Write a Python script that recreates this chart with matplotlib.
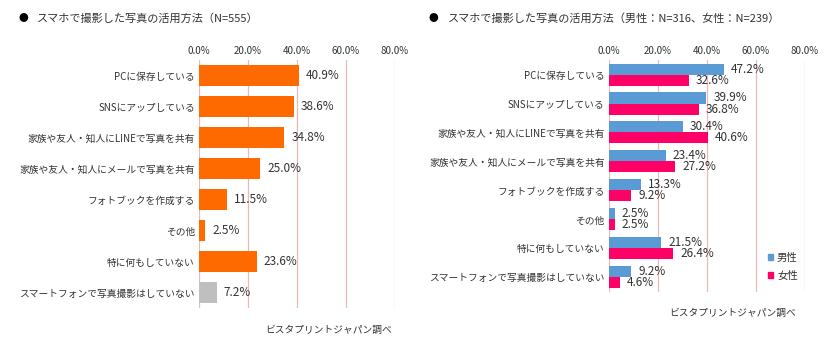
import numpy as np
import matplotlib
matplotlib.use("Agg")
import matplotlib.pyplot as plt
from matplotlib.patches import Patch

plt.rcParams['font.family'] = ['Noto Sans CJK JP', 'DejaVu Sans']

categories = ["PCに保存している", "SNSにアップしている", "家族や友人・知人にLINEで写真を共有",
              "家族や友人・知人にメールで写真を共有", "フォトブックを作成する", "その他",
              "特に何もしていない", "スマートフォンで写真撮影はしていない"]
total = [40.9, 38.6, 34.8, 25.0, 11.5, 2.5, 23.6, 7.2]
male = [47.2, 39.9, 30.4, 23.4, 13.3, 2.5, 21.5, 9.2]
female = [32.6, 36.8, 40.6, 27.2, 9.2, 2.5, 26.4, 4.6]
ticks = [0, 20, 40, 60, 80]
tick_labels = ["0.0%", "20.0%", "40.0%", "60.0%", "80.0%"]

orange = "#FF6A00"
gray = "#BFBFBF"
blue = "#5B9BD5"
pink = "#FF0066"
grid_c = "#E9B9B9"
txt = "#333333"

fig = plt.figure(figsize=(8.26, 3.43), dpi=100)


def style(ax):
    ax.set_xlim(0, 80)
    ax.set_xticks(ticks)
    ax.set_xticklabels(tick_labels, fontsize=7, color=txt)
    ax.xaxis.tick_top()
    ax.tick_params(axis="both", length=0, pad=3)
    for s in ax.spines.values():
        s.set_visible(False)
    for t in ticks:
        ax.axvline(t, color=grid_c, lw=0.9, zorder=0)
    ax.set_yticks(np.arange(len(categories)))
    ax.set_yticklabels(categories, fontsize=7, color=txt)
    ax.set_ylim(len(categories) - 0.5, -0.5)


# left chart
ax1 = fig.add_axes([0.241, 0.102, 0.237, 0.723])
y = np.arange(len(categories))
colors = [orange] * (len(categories) - 1) + [gray]
bars = ax1.barh(y, total, height=0.7, color=colors, zorder=2)
ax1.bar_label(bars, labels=[f"{v:.1f}%" for v in total], padding=5, fontsize=8.5, color=txt)
style(ax1)
fig.text(0.022, 0.947, "●", fontsize=7, color="black", va="center")
fig.text(0.045, 0.947, "スマホで撮影した写真の活用方法（N=555）", fontsize=8, color=txt, va="center")
fig.text(0.475, 0.038, "ビスタプリントジャパン調べ", fontsize=7, color=txt, ha="right", va="center")

# right chart
ax2 = fig.add_axes([0.737, 0.149, 0.237, 0.676])
h = 0.38
b1 = ax2.barh(y - h / 2, male, height=h, color=blue, zorder=2, label="男性")
b2 = ax2.barh(y + h / 2, female, height=h, color=pink, zorder=2, label="女性")
ax2.bar_label(b1, labels=[f"{v:.1f}%" for v in male], padding=5, fontsize=8.5, color=txt)
ax2.bar_label(b2, labels=[f"{v:.1f}%" for v in female], padding=5, fontsize=8.5, color=txt)
style(ax2)
fig.text(0.519, 0.947, "●", fontsize=7, color="black", va="center")
fig.text(0.542, 0.947, "スマホで撮影した写真の活用方法（男性：N=316、女性：N=239）", fontsize=8,
         color=txt, va="center")
fig.text(0.963, 0.088, "ビスタプリントジャパン調べ", fontsize=7, color=txt, ha="right", va="center")
handles = [Patch(color=blue), Patch(color=pink)]
fig.legend(handles, ["男性", "女性"], loc="upper left", bbox_to_anchor=(0.918, 0.29),
           frameon=False, fontsize=7.5, handlelength=0.5, handleheight=0.5,
           handletextpad=0.4, labelspacing=0.7, labelcolor=txt)

fig.savefig("out.png", dpi=100, facecolor="white")
